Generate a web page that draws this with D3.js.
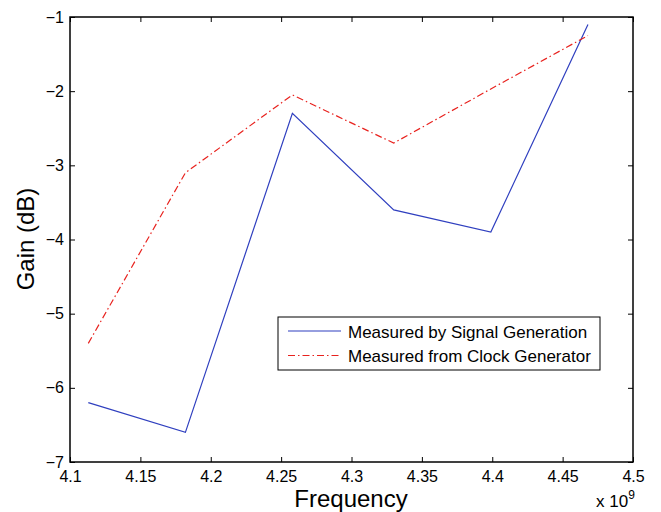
<!DOCTYPE html>
<html>
<head>
<meta charset="utf-8">
<script src="https://cdn.jsdelivr.net/npm/d3@7"></script>
<style>
body { margin: 0; background: #fff; }
text { font-family: "Liberation Sans", Arial, Helvetica, sans-serif; fill: #000; }
</style>
</head>
<body>
<div id="chart"></div>
<script>
// frequencies in units of 1e9 Hz
var freq = [4.113, 4.182, 4.258, 4.330, 4.399, 4.468];
var signalGen = [-6.2, -6.6, -2.3, -3.6, -3.9, -1.1];
var clockGen = [-5.4, -3.1, -2.05, -2.7, -1.97, -1.25];
var xTicks = [4.1, 4.15, 4.2, 4.25, 4.3, 4.35, 4.4, 4.45, 4.5];
var yTicks = [-7, -6, -5, -4, -3, -2, -1];
var seriesNames = ["Measured by Signal Generation", "Measured from Clock Generator"];

var W = 661, H = 512;
var margin = {top:17, right:28, bottom:50, left:70};
var width = W - margin.left - margin.right;
var height = H - margin.top - margin.bottom;

var svg = d3.select("#chart").append("svg")
    .attr("width", W).attr("height", H);
var g = svg.append("g").attr("transform", "translate(" + margin.left + "," + margin.top + ")");

var x = d3.scaleLinear().domain([4.1, 4.5]).range([0, width]);
var y = d3.scaleLinear().domain([-7, -1]).range([height, 0]);

// axes with inward ticks
var fmtX = function(d) { return d3.format("")(+d.toFixed(2)); };
var fmtY = function(d) { return d < 0 ? "\u2212" + Math.abs(d) : d; };

g.append("g").attr("transform", "translate(0," + height + ")")
  .call(d3.axisBottom(x).tickValues(xTicks).tickSize(-5).tickPadding(9).tickFormat(fmtX))
  .call(function(a) { a.select(".domain").remove(); a.selectAll("text").style("font-size", "16px"); });
g.append("g")
  .call(d3.axisTop(x).tickValues(xTicks).tickSize(-5).tickFormat(""))
  .call(function(a) { a.select(".domain").remove(); });
g.append("g")
  .call(d3.axisLeft(y).tickValues(yTicks).tickSize(-5).tickPadding(6).tickFormat(fmtY))
  .call(function(a) { a.select(".domain").remove(); a.selectAll("text").style("font-size", "16px"); });
g.append("g").attr("transform", "translate(" + width + ",0)")
  .call(d3.axisRight(y).tickValues(yTicks).tickSize(-5).tickFormat(""))
  .call(function(a) { a.select(".domain").remove(); });
g.selectAll(".tick line").attr("stroke", "#000").attr("stroke-width", 1);

g.append("rect").attr("width", width).attr("height", height)
  .attr("fill", "none").attr("stroke", "#000").attr("stroke-width", 1.5);

var line = d3.line().x(function(d) { return x(d[0]); }).y(function(d) { return y(d[1]); });

g.append("path").datum(d3.zip(freq, signalGen))
  .attr("d", line).attr("fill", "none").attr("stroke", "#2f3fbf").attr("stroke-width", 1.2);
g.append("path").datum(d3.zip(freq, clockGen))
  .attr("d", line).attr("fill", "none").attr("stroke", "#e8221e").attr("stroke-width", 1.2)
  .attr("stroke-dasharray", "7,3,1.5,3");

// labels
svg.append("text").attr("x", 351).attr("y", 507)
  .attr("text-anchor", "middle").style("font-size", "24px").text("Frequency");
svg.append("text").attr("transform", "translate(34,239) rotate(-90)")
  .attr("text-anchor", "middle").style("font-size", "24px").text("Gain (dB)");
var exp = svg.append("text").attr("x", 596).attr("y", 507).style("font-size", "17px");
exp.append("tspan").text("x 10");
exp.append("tspan").attr("dy", -8).style("font-size", "12px").text("9");

// legend
var lg = svg.append("g").attr("transform", "translate(278,317)");
lg.append("rect").attr("width", 322).attr("height", 53)
  .attr("fill", "#fff").attr("stroke", "#000").attr("stroke-width", 1);
var styles = [{c:"#2f3fbf", d:null}, {c:"#e8221e", d:"7,3,1.5,3"}];
seriesNames.forEach(function(n, i) {
  var yy = 14 + i * 24.5;
  lg.append("line").attr("x1", 10).attr("x2", 63).attr("y1", yy).attr("y2", yy)
    .attr("stroke", styles[i].c).attr("stroke-width", 1.2).attr("stroke-dasharray", styles[i].d);
  lg.append("text").attr("x", 70).attr("y", yy + 6.5).style("font-size", "17px").text(n);
});
</script>
</body>
</html>
